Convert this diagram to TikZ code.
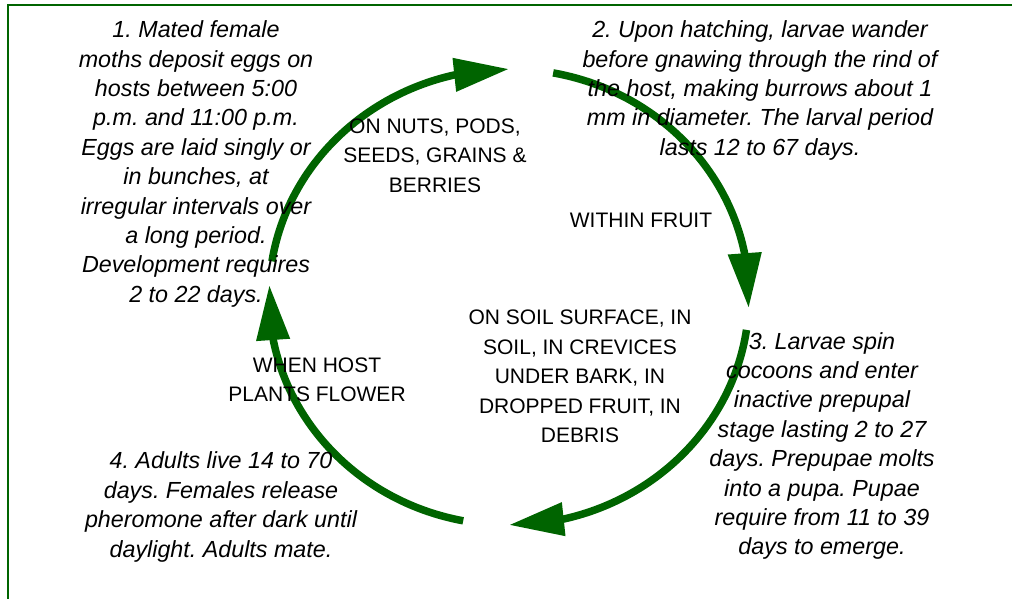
\documentclass[tikz,border=0pt]{standalone}
\usepackage{fontspec}
\setmainfont{Liberation Sans}
\frenchspacing
\usetikzlibrary{arrows.meta,bending}
\definecolor{cycgreen}{RGB}{0,100,0}
\tikzset{
  cyc/.style={draw=cycgreen, line width=7.5pt, -{Triangle[length=55pt,width=32pt]}},
  stage/.style={align=center, inner sep=0pt, text=black, font=\fontsize{23.3}{29.4}\selectfont\itshape},
  place/.style={align=center, inner sep=0pt, text=black, font=\fontsize{21}{29.4}\selectfont},
  frameline/.style={draw=cycgreen, line width=1.3pt}
}
\begin{document}
\begin{tikzpicture}[x=1pt,y=1pt]
\useasboundingbox (0,0) rectangle (1013,599);
% frame
\coordinate (fb) at (8,0);
\coordinate (ft) at (8,594);
\coordinate (fr) at (1012,594);
\draw[frameline] (fb) -- (ft) -- (fr);
% cycle arcs
\coordinate (c) at (509,302);
\path (c) ++(171:240pt and 228pt) coordinate (a1s);
\path (c) ++(79.4:240pt and 228pt) coordinate (a2s);
\path (c) ++(-8.3:240pt and 228pt) coordinate (a3s);
\path (c) ++(-101:240pt and 228pt) coordinate (a4s);
\draw[cyc] (a1s) arc[start angle=171, end angle=90, x radius=240pt, y radius=228pt];
\draw[cyc] (a2s) arc[start angle=79.4, end angle=-2.8, x radius=240pt, y radius=228pt];
\draw[cyc] (a3s) arc[start angle=-8.3, end angle=-90, x radius=240pt, y radius=228pt];
\draw[cyc] (a4s) arc[start angle=-101, end angle=-183, x radius=240pt, y radius=228pt];
% stage texts
\node[stage] (s1) at (196,435) {1. Mated female\\moths deposit eggs on\\hosts between 5:00\\p.m. and 11:00 p.m.\\Eggs are laid singly or\\in bunches, at\\irregular intervals over\\a long period.\\Development requires\\2 to 22 days.};
\node[stage] (s2) at (760,508.5) {2. Upon hatching, larvae wander\\before gnawing through the rind of\\the host, making burrows about 1\\mm in diameter. The larval period\\lasts 12 to 67 days.};
\node[stage] (s3) at (822,153) {3. Larvae spin\\cocoons and enter\\inactive prepupal\\stage lasting 2 to 27\\days. Prepupae molts\\into a pupa. Pupae\\require from 11 to 39\\days to emerge.};
\node[stage] (s4) at (221,92) {4. Adults live 14 to 70\\days. Females release\\pheromone after dark until\\daylight. Adults mate.};
% place labels
\node[place] (p1) at (435,443.5) {ON NUTS, PODS,\\SEEDS, GRAINS \&\\BERRIES};
\node[place] (p2) at (641,379) {WITHIN FRUIT};
\node[place] (p3) at (580,222.5) {ON SOIL SURFACE, IN\\SOIL, IN CREVICES\\UNDER BARK, IN\\DROPPED FRUIT, IN\\DEBRIS};
\node[place] (p4) at (317,219.5) {WHEN HOST\\PLANTS FLOWER};
\end{tikzpicture}
\end{document}
